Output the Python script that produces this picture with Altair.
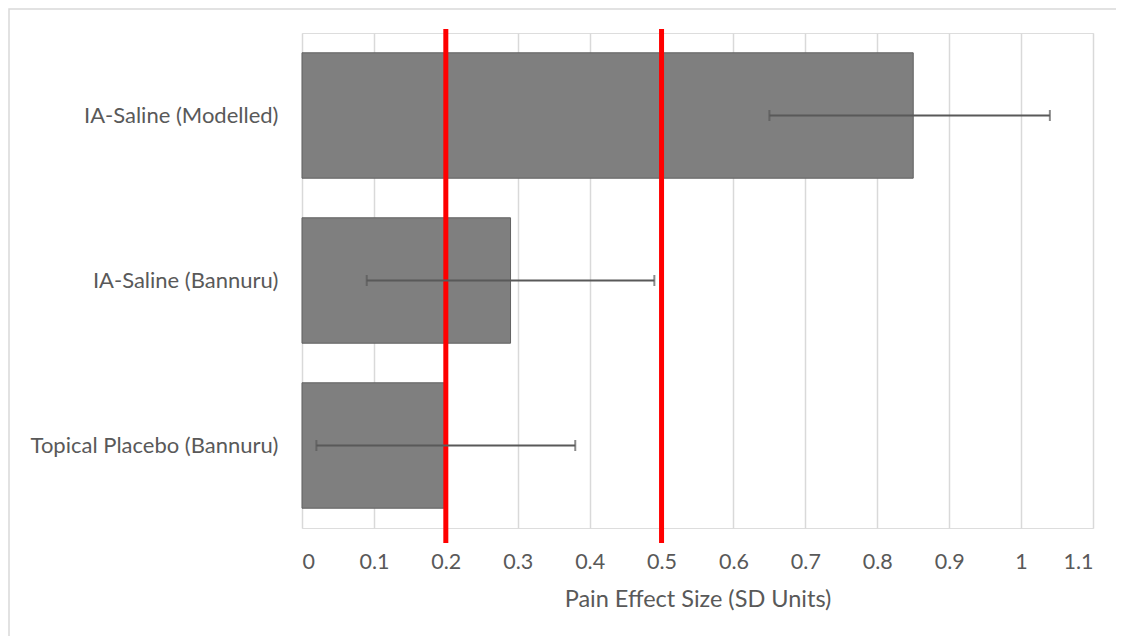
import altair as alt
import pandas as pd

categories = ["IA-Saline (Modelled)", "IA-Saline (Bannuru)", "Topical Placebo (Bannuru)"]
effect = [0.85, 0.29, 0.20]
ci_low = [0.65, 0.09, 0.02]
ci_high = [1.04, 0.49, 0.38]
thresholds = [0.2, 0.5]
tick_values = [0, 0.1, 0.2, 0.3, 0.4, 0.5, 0.6, 0.7, 0.8, 0.9, 1.0, 1.1]

df = pd.DataFrame({"cat": categories, "effect": effect, "lo": ci_low, "hi": ci_high})
df_thr = pd.DataFrame({"t": thresholds})

W, H = 791, 495
FONT = "Lato"
TXT = "#595959"

xscale = alt.Scale(domain=[0, 1.1], nice=False, zero=True)
yscale = alt.Scale(paddingInner=0.24, paddingOuter=0.12)

xaxis = alt.Axis(values=tick_values, format="~g", grid=True, gridColor="#d9d9d9", gridWidth=1.5,
                 domain=False, ticks=False, labelFont=FONT, labelFontSize=21.5, labelColor=TXT,
                 labelPadding=23, title="Pain Effect Size (SD Units)", titleFont=FONT,
                 titleFontSize=23.5, titleFontWeight="normal", titleColor=TXT, titlePadding=15)
yaxis = alt.Axis(domain=False, ticks=False, grid=False, labelFont=FONT, labelFontSize=22,
                 labelColor=TXT, labelPadding=24, title=None, labelLimit=400)

border = alt.Chart(df_thr).mark_rect(fill=None, stroke="#d9d9d9", strokeWidth=1.5).encode(
    x=alt.value(-293), x2=alt.value(W + 60), y=alt.value(-24), y2=alt.value(H + 200)
).transform_filter("datum.t == 0.2")

bars = alt.Chart(df).mark_bar(color="#7f7f7f", stroke="#606060", strokeWidth=1).encode(
    x=alt.X("effect:Q", scale=xscale, axis=xaxis),
    y=alt.Y("cat:N", sort=categories, scale=yscale, axis=yaxis),
)

err = alt.Chart(df).mark_rule(color="#595959", strokeWidth=2).encode(
    x="lo:Q", x2="hi:Q", y=alt.Y("cat:N", sort=categories)
)
cap_lo = alt.Chart(df).mark_tick(color="#595959", thickness=2, size=11, orient="vertical").encode(
    x="lo:Q", y=alt.Y("cat:N", sort=categories)
)
cap_hi = alt.Chart(df).mark_tick(color="#595959", thickness=2, size=11, orient="vertical").encode(
    x="hi:Q", y=alt.Y("cat:N", sort=categories)
)

rules = alt.Chart(df_thr).mark_rule(color="#ff0000", strokeWidth=5).encode(
    x="t:Q", y=alt.value(-4), y2=alt.value(H + 15)
)

chart = alt.layer(border, bars, rules, err, cap_lo, cap_hi).properties(
    width=W, height=H,
    autosize=alt.AutoSizeParams(type="none"),
    padding={"left": 294, "top": 25, "right": 23, "bottom": 108},
).configure_view(stroke=None).configure(background="white")

chart.save("out.html", embed_options={"renderer": "svg", "actions": False})
